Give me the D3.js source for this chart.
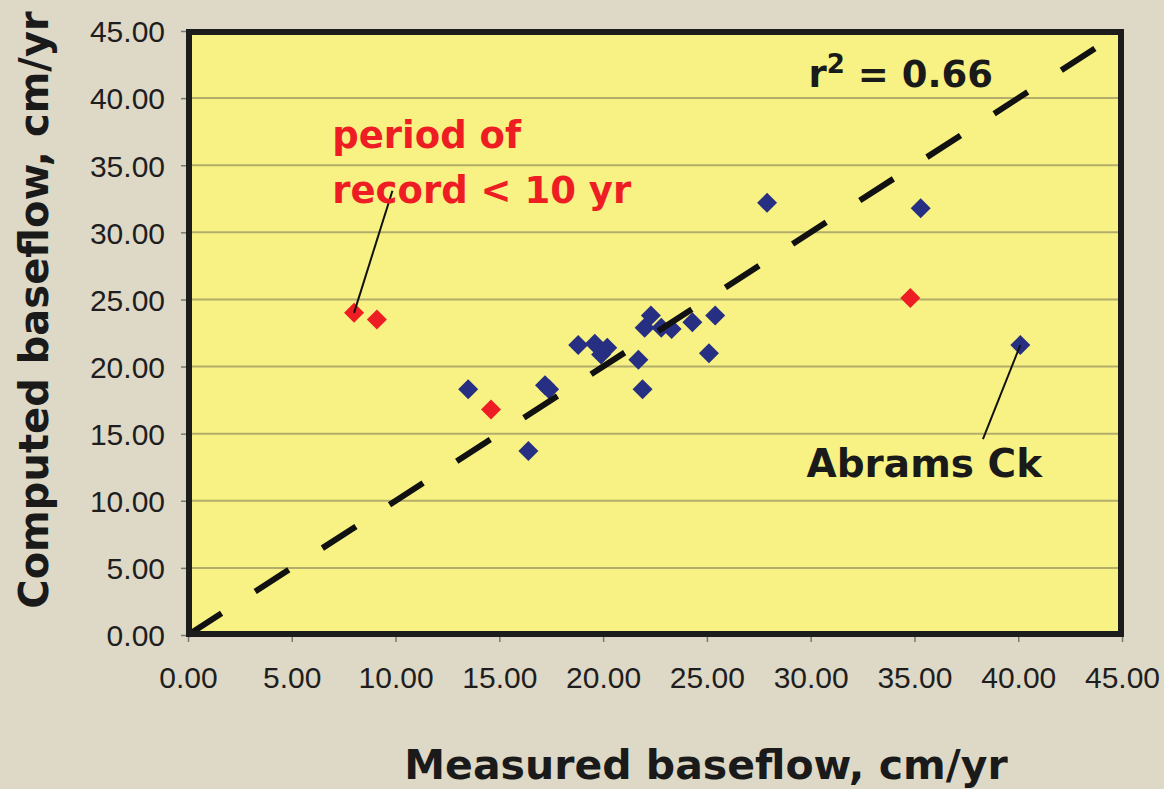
<!DOCTYPE html>
<html>
<head>
<meta charset="utf-8">
<script src="https://cdn.jsdelivr.net/npm/d3@7"></script>
<style>
  html, body { margin: 0; padding: 0; background: #ded8c6; }
  svg { display: block; }
</style>
</head>
<body>
<svg id="chart" width="1164" height="789"></svg>
<script>
// ---- data ----
const tickValues = [0, 5, 10, 15, 20, 25, 30, 35, 40, 45];
const tickLabels = ["0.00", "5.00", "10.00", "15.00", "20.00", "25.00", "30.00", "35.00", "40.00", "45.00"];

// long-record stations (blue)
const blueMeasured = [13.5, 16.4, 17.2, 17.4, 18.8, 19.6, 20.2, 19.9, 21.7, 21.9, 22.3, 22.0, 22.8, 23.3, 24.3, 25.4, 25.1, 27.9, 35.3, 40.1];
const blueComputed = [18.3, 13.7, 18.6, 18.3, 21.6, 21.7, 21.4, 20.9, 20.5, 18.3, 23.8, 22.9, 22.9, 22.8, 23.3, 23.8, 21.0, 32.2, 31.8, 21.6];

// period of record < 10 yr (red)
const redMeasured = [8.0, 9.1, 14.6, 34.8];
const redComputed = [24.0, 23.5, 16.8, 25.1];

// 1:1 line
const oneToOne = [[0, 0], [45, 45]];

// annotations
const rSquaredText = "0.66";
const periodLabel = ["period of", "record < 10 yr"];
const periodLeader = [[8.0, 24.0], [9.85, 33.1]];
const abramsLabel = "Abrams Ck";
const abramsLeader = [[40.1, 21.6], [38.3, 14.6]];

const xTitle = "Measured baseflow, cm/yr";
const yTitle = "Computed baseflow, cm/yr";

// ---- drawing ----
const svg = d3.select("#chart");
const W = 1164, H = 789;
const x = d3.scaleLinear().domain([0, 45]).range([188, 1122]);
const y = d3.scaleLinear().domain([0, 45]).range([635, 31]);

svg.append("rect").attr("width", W).attr("height", H).attr("fill", "#ded8c6");

// plot area background
svg.append("rect")
  .attr("x", x(0)).attr("y", y(45))
  .attr("width", x(45) - x(0)).attr("height", y(0) - y(45))
  .attr("fill", "#f7f283");

// gridlines
svg.append("g").selectAll("line")
  .data(tickValues.filter(v => v > 0 && v < 45))
  .join("line")
  .attr("x1", x(0)).attr("x2", x(45))
  .attr("y1", d => y(d)).attr("y2", d => y(d))
  .attr("stroke", "#b3ad6c").attr("stroke-width", 2);

// axes
const fmt = d => tickLabels[tickValues.indexOf(d)];
const yAxis = svg.append("g")
  .attr("transform", `translate(${x(0)},0)`)
  .call(d3.axisLeft(y).tickValues(tickValues).tickFormat(fmt).tickSize(7).tickPadding(16));
const xAxis = svg.append("g")
  .attr("transform", `translate(0,${y(0)})`)
  .call(d3.axisBottom(x).tickValues(tickValues).tickFormat(fmt).tickSize(7).tickPadding(31));
[xAxis, yAxis].forEach(g => {
  g.select(".domain").remove();
  g.selectAll(".tick line").attr("stroke", "#7a7a70").attr("stroke-width", 1.5);
  g.selectAll(".tick text")
    .attr("font-family", "'Liberation Sans', Arial, sans-serif")
    .attr("font-size", 30)
    .attr("fill", "#1e1e1e");
});
yAxis.selectAll(".tick text").attr("dy", "0.36em");
xAxis.selectAll(".tick text").attr("dy", "0.5em");

// points
const diamond = d3.symbol().type(d3.symbolSquare).size(200);
function drawPts(xs, ys, color) {
  svg.append("g").selectAll("path")
    .data(xs.map((v, i) => [v, ys[i]]))
    .join("path")
    .attr("d", diamond)
    .attr("transform", d => `translate(${x(d[0])},${y(d[1])}) rotate(45)`)
    .attr("fill", color);
}
drawPts(blueMeasured, blueComputed, "#262f82");
drawPts(redMeasured, redComputed, "#ee1d24");

// 1:1 dashed line
svg.append("path")
  .datum(oneToOne)
  .attr("d", d3.line().x(d => x(d[0])).y(d => y(d[1])))
  .attr("stroke", "#111").attr("stroke-width", 6)
  .attr("stroke-dasharray", "40,40")
  .attr("fill", "none");

// plot frame (drawn on top)
svg.append("rect")
  .attr("x", x(0) + 1).attr("y", y(45) + 1)
  .attr("width", x(45) - x(0) - 2).attr("height", y(0) - y(45) - 2)
  .attr("fill", "none").attr("stroke", "#1c1c1c").attr("stroke-width", 6);

// leader lines
const leader = d3.line().x(d => x(d[0])).y(d => y(d[1]));
[periodLeader, abramsLeader].forEach(l => {
  svg.append("path").datum(l).attr("d", leader)
    .attr("stroke", "#111").attr("stroke-width", 2).attr("fill", "none");
});

const boldFont = "'DejaVu Sans', Verdana, sans-serif";

// r^2 label
const r2 = svg.append("text")
  .attr("x", x(29.9)).attr("y", y(40.8))
  .attr("font-family", boldFont).attr("font-weight", "bold")
  .attr("font-size", 37).attr("fill", "#1a1a1a");
r2.append("tspan").text("r");
r2.append("tspan").attr("font-size", 26).attr("dy", -14).text("2");
r2.append("tspan").attr("dy", 14).text(" = " + rSquaredText);

// period label
const pt = svg.append("text")
  .attr("font-family", boldFont).attr("font-weight", "bold")
  .attr("font-size", 37).attr("fill", "#ee1d24");
periodLabel.forEach((s, i) => {
  pt.append("tspan").attr("x", x(6.95)).attr("y", y(36.3) + i * 55).text(s);
});

// Abrams Ck label
svg.append("text")
  .attr("x", x(29.8)).attr("y", y(11.8))
  .attr("font-family", boldFont).attr("font-weight", "bold")
  .attr("font-size", 39).attr("fill", "#1a1a1a")
  .text(abramsLabel);

// axis titles
svg.append("text")
  .attr("x", 706).attr("y", 779)
  .attr("text-anchor", "middle")
  .attr("font-family", boldFont).attr("font-weight", "bold")
  .attr("font-size", 41).attr("fill", "#1a1a1a")
  .text(xTitle);
svg.append("text")
  .attr("transform", "translate(48,310) rotate(-90)")
  .attr("text-anchor", "middle")
  .attr("font-family", boldFont).attr("font-weight", "bold")
  .attr("font-size", 40).attr("fill", "#1a1a1a")
  .text(yTitle);
</script>
</body>
</html>
